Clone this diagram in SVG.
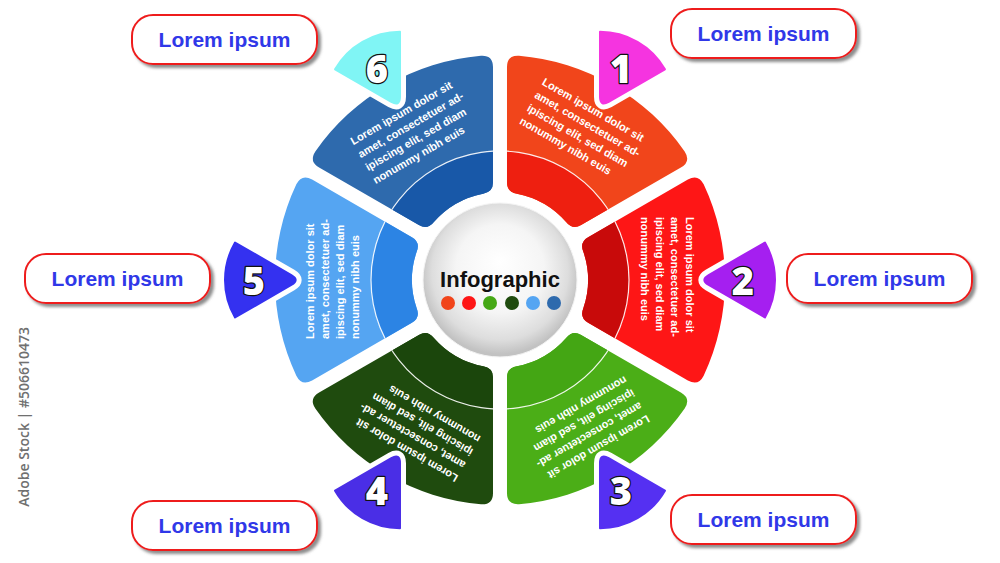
<svg xmlns="http://www.w3.org/2000/svg" xmlns:xlink="http://www.w3.org/1999/xlink" width="1000" height="563" viewBox="0 0 1000 563">
  <defs>
    <style>
      .body { font-family: "Liberation Sans", Arial, sans-serif; font-weight: bold; font-size: 11px; fill: #ffffff; }
      .num { font-family: "Open Sans", "Liberation Sans", sans-serif; font-weight: 800; font-size: 38px; fill: #ffffff; stroke: #111111; stroke-width: 2.5; paint-order: stroke fill; text-anchor: middle; stroke-linejoin: round; }
      .lblbox { fill: #ffffff; stroke: #ee1c1c; stroke-width: 2; filter: url(#shadow); }
      .lbltxt { font-family: "Liberation Sans", Arial, sans-serif; font-weight: bold; font-size: 21px; fill: #3038e8; text-anchor: middle; }
      .halo { fill: #ffffff; stroke: #ffffff; stroke-width: 12; stroke-linejoin: round; }
      .div { fill: none; stroke: #ffffff; stroke-width: 1.2; opacity: 0.9; }
      .title { font-family: "Liberation Sans", Arial, sans-serif; font-weight: bold; font-size: 22px; fill: #111111; text-anchor: middle; }
      .wm { font-family: "Open Sans", "Liberation Sans", sans-serif; font-weight: 600; font-size: 14px; fill: #707070; text-anchor: end; }
    </style>
    <path id="seg" d="M187.87,-100.39 Q198.26,-106.39 203.67,-95.65 A225,225 0 0 1 203.67,95.65 Q198.26,106.39 187.87,100.39 L88.13,42.8 Q79.47,37.8 83.24,28.55 A88,88 0 0 0 83.24,-28.55 Q79.47,-37.8 88.13,-42.8 Z"/>
    <path id="tab" d="M208.66,-5 L264.95,-37.5 A75,75 0 0 1 264.95,37.5 L208.66,5 Q200,0 208.66,-5 Z"/>
    <clipPath id="segclip"><use xlink:href="#seg"/></clipPath>
    <radialGradient id="ball" cx="50%" cy="46%" r="52%" fx="50%" fy="38%">
      <stop offset="0" stop-color="#ffffff"/>
      <stop offset="0.55" stop-color="#f5f5f5"/>
      <stop offset="0.85" stop-color="#dddddd"/>
      <stop offset="1" stop-color="#c2c2c2"/>
    </radialGradient>
    <filter id="shadow" x="-10%" y="-20%" width="125%" height="150%">
      <feDropShadow dx="3" dy="3" stdDeviation="1.5" flood-color="#6f6f6f" flood-opacity="0.8"/>
    </filter>
  </defs>

  <rect width="1000" height="563" fill="#ffffff"/>

  <g id="connectors"/>

  <!-- Node 1 -->
  <g id="node-1">
    <g transform="translate(500,280) rotate(-60)">
      <use xlink:href="#seg" fill="#f1451b"/>
      <g clip-path="url(#segclip)"><circle r="129" fill="#ee1f10"/><circle r="129" class="div"/></g>
      <use xlink:href="#tab" class="halo"/>
      <use xlink:href="#tab" fill="#f534e0" stroke="#f534e0" stroke-width="2" stroke-linejoin="round"/>
    </g>
    <text class="num" x="621" y="83">1</text>
    <text class="body" transform="translate(584,132) rotate(30)"><tspan x="-61" y="-20">Lorem ipsum dolor sit</tspan><tspan x="-61" y="-5">amet, consectetuer ad-</tspan><tspan x="-61" y="10">ipiscing elit, sed diam</tspan><tspan x="-61" y="25">nonummy nibh euis</tspan></text>
    <rect class="lblbox" x="671" y="9" width="185" height="49" rx="21"/>
    <text class="lbltxt" x="763.5" y="41">Lorem ipsum</text>
  </g>

  <!-- Node 2 -->
  <g id="node-2">
    <g transform="translate(500,280)">
      <use xlink:href="#seg" fill="#fe1616"/>
      <g clip-path="url(#segclip)"><circle r="129" fill="#c80a0a"/><circle r="129" class="div"/></g>
      <use xlink:href="#tab" class="halo"/>
      <use xlink:href="#tab" fill="#a51ff0" stroke="#a51ff0" stroke-width="2" stroke-linejoin="round"/>
    </g>
    <text class="num" x="743" y="295">2</text>
    <text class="body" transform="translate(666,278) rotate(90)"><tspan x="-61" y="-20">Lorem ipsum dolor sit</tspan><tspan x="-61" y="-5">amet, consectetuer ad-</tspan><tspan x="-61" y="10">ipiscing elit, sed diam</tspan><tspan x="-61" y="25">nonummy nibh euis</tspan></text>
    <rect class="lblbox" x="787" y="254" width="185" height="49" rx="21"/>
    <text class="lbltxt" x="879.5" y="286">Lorem ipsum</text>
  </g>

  <!-- Node 3 -->
  <g id="node-3">
    <g transform="translate(500,280) rotate(60)">
      <use xlink:href="#seg" fill="#4bae17"/>
      <g clip-path="url(#segclip)"><circle r="129" fill="#44a614"/><circle r="129" class="div"/></g>
      <use xlink:href="#tab" class="halo"/>
      <use xlink:href="#tab" fill="#5530f2" stroke="#5530f2" stroke-width="2" stroke-linejoin="round"/>
    </g>
    <text class="num" x="621" y="505">3</text>
    <text class="body" transform="translate(584,428) rotate(150)"><tspan x="-61" y="-20">Lorem ipsum dolor sit</tspan><tspan x="-61" y="-5">amet, consectetuer ad-</tspan><tspan x="-61" y="10">ipiscing elit, sed diam</tspan><tspan x="-61" y="25">nonummy nibh euis</tspan></text>
    <rect class="lblbox" x="671" y="495" width="185" height="49" rx="21"/>
    <text class="lbltxt" x="763.5" y="527">Lorem ipsum</text>
  </g>

  <!-- Node 4 -->
  <g id="node-4">
    <g transform="translate(500,280) rotate(120)">
      <use xlink:href="#seg" fill="#1f4b0e"/>
      <g clip-path="url(#segclip)"><circle r="129" fill="#1b460c"/><circle r="129" class="div"/></g>
      <use xlink:href="#tab" class="halo"/>
      <use xlink:href="#tab" fill="#4a2ee6" stroke="#4a2ee6" stroke-width="2" stroke-linejoin="round"/>
    </g>
    <text class="num" x="377" y="505">4</text>
    <text class="body" transform="translate(416,428) rotate(210)"><tspan x="-61" y="-20">Lorem ipsum dolor sit</tspan><tspan x="-61" y="-5">amet, consectetuer ad-</tspan><tspan x="-61" y="10">ipiscing elit, sed diam</tspan><tspan x="-61" y="25">nonummy nibh euis</tspan></text>
    <rect class="lblbox" x="132" y="501" width="185" height="49" rx="21"/>
    <text class="lbltxt" x="224.5" y="533">Lorem ipsum</text>
  </g>

  <!-- Node 5 -->
  <g id="node-5">
    <g transform="translate(500,280) rotate(180)">
      <use xlink:href="#seg" fill="#55a5f2"/>
      <g clip-path="url(#segclip)"><circle r="129" fill="#2c84e4"/><circle r="129" class="div"/></g>
      <use xlink:href="#tab" class="halo"/>
      <use xlink:href="#tab" fill="#3431f0" stroke="#3431f0" stroke-width="2" stroke-linejoin="round"/>
    </g>
    <text class="num" x="254" y="295">5</text>
    <text class="body" transform="translate(334,278) rotate(270)"><tspan x="-61" y="-20">Lorem ipsum dolor sit</tspan><tspan x="-61" y="-5">amet, consectetuer ad-</tspan><tspan x="-61" y="10">ipiscing elit, sed diam</tspan><tspan x="-61" y="25">nonummy nibh euis</tspan></text>
    <rect class="lblbox" x="25" y="254" width="185" height="49" rx="21"/>
    <text class="lbltxt" x="117.5" y="286">Lorem ipsum</text>
  </g>

  <!-- Node 6 -->
  <g id="node-6">
    <g transform="translate(500,280) rotate(240)">
      <use xlink:href="#seg" fill="#2e6aad"/>
      <g clip-path="url(#segclip)"><circle r="129" fill="#1858a8"/><circle r="129" class="div"/></g>
      <use xlink:href="#tab" class="halo"/>
      <use xlink:href="#tab" fill="#80f5f5" stroke="#80f5f5" stroke-width="2" stroke-linejoin="round"/>
    </g>
    <text class="num" x="377" y="83">6</text>
    <text class="body" transform="translate(416,132) rotate(330)"><tspan x="-61" y="-20">Lorem ipsum dolor sit</tspan><tspan x="-61" y="-5">amet, consectetuer ad-</tspan><tspan x="-61" y="10">ipiscing elit, sed diam</tspan><tspan x="-61" y="25">nonummy nibh euis</tspan></text>
    <rect class="lblbox" x="132" y="15" width="185" height="49" rx="21"/>
    <text class="lbltxt" x="224.5" y="47">Lorem ipsum</text>
  </g>

  <!-- Center -->
  <g id="center">
    <circle cx="500" cy="280" r="77" fill="url(#ball)" stroke="#f4f4f4" stroke-width="1"/>
    <text class="title" x="500" y="287">Infographic</text>
    <circle cx="448" cy="303" r="7" fill="#f1451b"/>
    <circle cx="469" cy="303" r="7" fill="#fe1616"/>
    <circle cx="490" cy="303" r="7" fill="#45a815"/>
    <circle cx="512" cy="303" r="7" fill="#1f4b0e"/>
    <circle cx="533" cy="303" r="7" fill="#55a5f2"/>
    <circle cx="554" cy="303" r="7" fill="#2e6aad"/>
  </g>

  <text class="wm" transform="translate(29,327) rotate(-90)">Adobe Stock | #506610473</text>
</svg>
